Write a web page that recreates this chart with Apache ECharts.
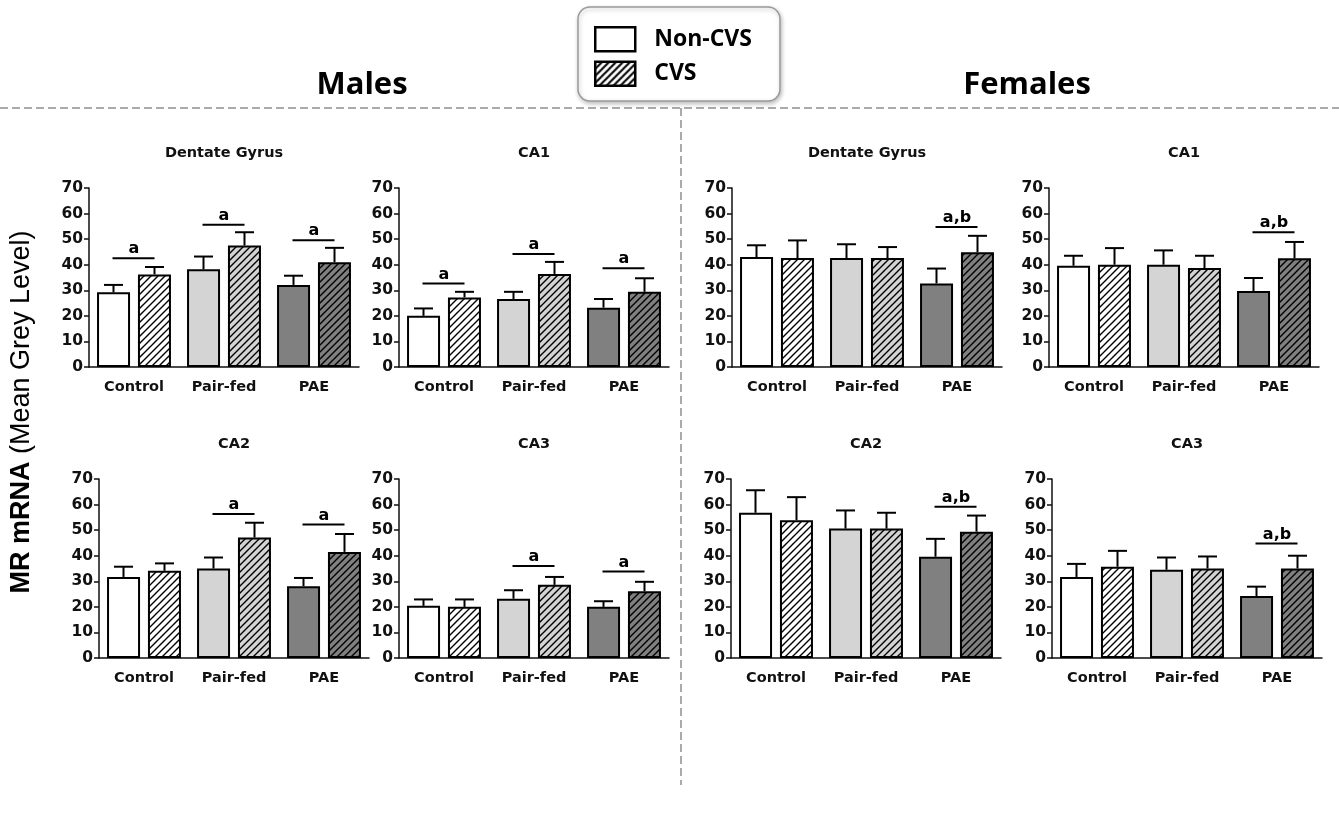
<!DOCTYPE html>
<html><head><meta charset="utf-8">
<script src="https://cdn.jsdelivr.net/npm/echarts@6/dist/echarts.min.js"></script>
<style>html,body{margin:0;padding:0;background:#fff;}#c{width:1339px;height:813px;}</style>
</head><body><div id="c"></div>
<script>
// ---------- data ----------
const categories = ['Control', 'Pair-fed', 'PAE'];
const panelTitles = ['Dentate Gyrus', 'CA1', 'Dentate Gyrus', 'CA1', 'CA2', 'CA3', 'CA2', 'CA3'];
const yMin = 0, yMax = 70, yStep = 10;

// Males - Dentate Gyrus
const mDG_non = [29.2, 38.2, 32.1], mDG_nonSem = [2.9, 5.0, 3.6];
const mDG_cvs = [36.2, 47.5, 41.0], mDG_cvsSem = [2.9, 5.2, 5.6];
const mDG_sig = [42.5, 55.6, 49.6], mDG_sigLbl = ['a', 'a', 'a'];
// Males - CA1
const mCA1_non = [20.0, 26.6, 23.2], mCA1_nonSem = [2.9, 2.8, 3.4];
const mCA1_cvs = [27.2, 36.4, 29.4], mCA1_cvsSem = [2.2, 4.7, 5.3];
const mCA1_sig = [32.7, 44.2, 38.6], mCA1_sigLbl = ['a', 'a', 'a'];
// Females - Dentate Gyrus
const fDG_non = [43.0, 42.6, 32.7], fDG_nonSem = [4.6, 5.4, 5.8];
const fDG_cvs = [42.6, 42.6, 44.9], fDG_cvsSem = [6.9, 4.3, 6.4];
const fDG_sig = [null, null, 54.7], fDG_sigLbl = ['', '', 'a,b'];
// Females - CA1
const fCA1_non = [39.6, 40.0, 29.7], fCA1_nonSem = [3.9, 5.6, 5.1];
const fCA1_cvs = [40.0, 38.7, 42.5], fCA1_cvsSem = [6.5, 4.8, 6.4];
const fCA1_sig = [null, null, 52.7], fCA1_sigLbl = ['', '', 'a,b'];
// Males - CA2
const mCA2_non = [31.7, 35.0, 28.1], mCA2_nonSem = [4.0, 4.3, 3.2];
const mCA2_cvs = [34.1, 47.1, 41.5], mCA2_cvsSem = [2.9, 5.8, 7.0];
const mCA2_sig = [null, 56.3, 52.2], mCA2_sigLbl = ['', 'a', 'a'];
// Males - CA3
const mCA3_non = [20.4, 23.2, 20.0], mCA3_nonSem = [2.5, 3.3, 2.2];
const mCA3_cvs = [20.0, 28.6, 26.1], mCA3_cvsSem = [2.9, 3.1, 3.7];
const mCA3_sig = [null, 36.0, 33.8], mCA3_sigLbl = ['', 'a', 'a'];
// Females - CA2
const fCA2_non = [56.8, 50.6, 39.6], fCA2_nonSem = [8.8, 7.1, 7.0];
const fCA2_cvs = [53.9, 50.6, 49.4], fCA2_cvsSem = [9.0, 6.2, 6.3];
const fCA2_sig = [null, null, 59.1], fCA2_sigLbl = ['', '', 'a,b'];
// Females - CA3
const fCA3_non = [31.7, 34.5, 24.2], fCA3_nonSem = [5.1, 4.8, 3.7];
const fCA3_cvs = [35.7, 35.0, 35.0], fCA3_cvsSem = [6.2, 4.7, 5.0];
const fCA3_sig = [null, null, 44.8], fCA3_sigLbl = ['', '', 'a,b'];

// ---------- layout / style ----------
const panels = [
  [mDG_non, mDG_nonSem, mDG_cvs, mDG_cvsSem, mDG_sig, mDG_sigLbl],
  [mCA1_non, mCA1_nonSem, mCA1_cvs, mCA1_cvsSem, mCA1_sig, mCA1_sigLbl],
  [fDG_non, fDG_nonSem, fDG_cvs, fDG_cvsSem, fDG_sig, fDG_sigLbl],
  [fCA1_non, fCA1_nonSem, fCA1_cvs, fCA1_cvsSem, fCA1_sig, fCA1_sigLbl],
  [mCA2_non, mCA2_nonSem, mCA2_cvs, mCA2_cvsSem, mCA2_sig, mCA2_sigLbl],
  [mCA3_non, mCA3_nonSem, mCA3_cvs, mCA3_cvsSem, mCA3_sig, mCA3_sigLbl],
  [fCA2_non, fCA2_nonSem, fCA2_cvs, fCA2_cvsSem, fCA2_sig, fCA2_sigLbl],
  [fCA3_non, fCA3_nonSem, fCA3_cvs, fCA3_cvsSem, fCA3_sig, fCA3_sigLbl]
];
const gridPos = [[89,188],[399,188],[732,188],[1049,188],[99,479],[399,479],[731,479],[1052,479]];
const GW = 270, GH = 179;
const fills = ['#ffffff', '#d4d4d4', '#808080'];
const BAR_W = 33, HALF = 20.5;
const axisFont = 'DejaVu Sans';

function hatch(base, lw) {
  const s = 7, c = document.createElement('canvas');
  c.width = s; c.height = s;
  const g = c.getContext('2d');
  g.fillStyle = base; g.fillRect(0, 0, s, s);
  g.strokeStyle = '#000'; g.lineWidth = lw || 1.4;
  g.beginPath();
  g.moveTo(0, s); g.lineTo(s, 0);
  g.moveTo(-1, 1); g.lineTo(1, -1);
  g.moveTo(s - 1, s + 1); g.lineTo(s + 1, s - 1);
  g.stroke();
  return { image: c, repeat: 'repeat' };
}

const grids = [], xAxes = [], yAxes = [], series = [], titles = [];
panels.forEach((p, i) => {
  const [non, nonSem, cvs, cvsSem, sig, sigLbl] = p;
  const [gl, gt] = gridPos[i];
  grids.push({ left: gl, top: gt, width: GW, height: GH, containLabel: false });
  titles.push({ text: panelTitles[i], left: gl + GW / 2, top: gt - 42, textAlign: 'center', padding: 0,
    textStyle: { fontFamily: axisFont, fontWeight: 'bold', fontSize: 14.5, color: '#111' } });
  xAxes.push({ type: 'category', gridIndex: i, data: categories, boundaryGap: true,
    axisLine: { lineStyle: { color: '#111', width: 1.5 } },
    axisTick: { alignWithLabel: true, length: 5, lineStyle: { color: '#111', width: 1.5 } },
    axisLabel: { fontFamily: axisFont, fontWeight: 'bold', fontSize: 14.5, color: '#111', margin: 13, interval: 0 },
    splitLine: { show: false } });
  yAxes.push({ type: 'value', gridIndex: i, min: yMin, max: yMax, interval: yStep,
    axisLine: { show: true, lineStyle: { color: '#111', width: 1.5 } },
    axisTick: { show: true, length: 5, lineStyle: { color: '#111', width: 1.5 } },
    axisLabel: { fontFamily: axisFont, fontWeight: 'bold', fontSize: 15.5, color: '#111', margin: 6 },
    splitLine: { show: false } });
  series.push({ name: 'Non-CVS', type: 'bar', xAxisIndex: i, yAxisIndex: i, barWidth: BAR_W, barGap: '24%',
    itemStyle: { color: '#fff', borderColor: '#000', borderWidth: 2 },
    data: non.map((v, j) => ({ value: v, itemStyle: { color: fills[j] } })) });
  series.push({ name: 'CVS', type: 'bar', xAxisIndex: i, yAxisIndex: i, barWidth: BAR_W, barGap: '24%',
    itemStyle: { color: hatch('#fff'), borderColor: '#000', borderWidth: 2 },
    data: cvs.map((v, j) => ({ value: v, itemStyle: { color: hatch(fills[j]) } })) });
  [[non, nonSem, -HALF], [cvs, cvsSem, HALF]].forEach(([vals, sems, off]) => {
    series.push({ type: 'custom', xAxisIndex: i, yAxisIndex: i, z: 3, silent: true,
      data: vals.map((v, j) => [j, v, v + sems[j]]),
      renderItem: (params, api) => {
        const a = api.coord([api.value(0), api.value(1)]);
        const b = api.coord([api.value(0), api.value(2)]);
        const x = a[0] + off;
        return { type: 'group', children: [
          { type: 'line', shape: { x1: x, y1: a[1], x2: x, y2: b[1] }, style: { stroke: '#000', lineWidth: 2 } },
          { type: 'line', shape: { x1: x - 9.5, y1: b[1], x2: x + 9.5, y2: b[1] }, style: { stroke: '#000', lineWidth: 2 } }
        ] };
      } });
  });
  const sigData = [];
  sig.forEach((s, j) => { if (s != null) sigData.push([j, s, j]); });
  series.push({ type: 'custom', xAxisIndex: i, yAxisIndex: i, z: 3, silent: true,
    data: sigData,
    renderItem: (params, api) => {
      const c = api.coord([api.value(0), api.value(1)]);
      const lbl = sigLbl[api.value(2)];
      return { type: 'group', children: [
        { type: 'line', shape: { x1: c[0] - HALF - 1, y1: c[1], x2: c[0] + HALF, y2: c[1] }, style: { stroke: '#000', lineWidth: 2 } },
        { type: 'text', x: c[0], y: c[1] - 1, style: { text: lbl, align: 'center', verticalAlign: 'bottom',
          font: 'bold 16px "DejaVu Sans"', fill: '#000' } }
      ] };
    } });
});

const chart = echarts.init(document.getElementById('c'), null, { renderer: 'canvas' });
chart.setOption({
  animation: false,
  backgroundColor: '#fff',
  title: titles,
  grid: grids,
  xAxis: xAxes,
  yAxis: yAxes,
  series: series,
  legend: {
    orient: 'vertical', left: 578, top: 7, padding: [19, 28, 14, 16],
    itemWidth: 40, itemHeight: 24, itemGap: 8, icon: 'rect', selectedMode: false,
    data: [
      { name: 'Non-CVS', itemStyle: { color: '#fff', borderColor: '#000', borderWidth: 2.5 } },
      { name: 'CVS', itemStyle: { color: hatch('#fff', 2), borderColor: '#000', borderWidth: 2.5 } }
    ],
    textStyle: { fontFamily: 'Open Sans', fontWeight: 'bold', fontSize: 23, color: '#000', padding: [0, 0, 0, 14] },
    backgroundColor: '#fff', borderColor: '#9a9a9a', borderWidth: 1.5, borderRadius: 12,
    shadowBlur: 4, shadowColor: 'rgba(0,0,0,0.25)', shadowOffsetX: 1, shadowOffsetY: 2
  },
  graphic: [
    { type: 'line', z: -1, shape: { x1: 0, y1: 108, x2: 1339, y2: 108 }, style: { stroke: '#aaaaaa', lineWidth: 2, lineDash: [8, 4] } },
    { type: 'line', z: -1, shape: { x1: 681, y1: 108, x2: 681, y2: 785 }, style: { stroke: '#aaaaaa', lineWidth: 2, lineDash: [8, 4] } },
    { type: 'text', x: 362, y: 85, style: { text: 'Males', align: 'center', verticalAlign: 'middle', font: 'bold 31px "Open Sans"', fill: '#000' } },
    { type: 'text', x: 1027, y: 85, style: { text: 'Females', align: 'center', verticalAlign: 'middle', font: 'bold 31px "Open Sans"', fill: '#000' } },
    { type: 'text', x: 22, y: 412, rotation: Math.PI / 2, style: {
      text: '{b|MR mRNA }{r|(Mean Grey Level)}', align: 'center', verticalAlign: 'middle',
      rich: { b: { fontFamily: 'Liberation Sans', fontWeight: 'bold', fontSize: 27, fill: '#000', color: '#000' },
              r: { fontFamily: 'Liberation Sans', fontSize: 27, fill: '#000', color: '#000' } } } }
  ]
});
</script></body></html>
